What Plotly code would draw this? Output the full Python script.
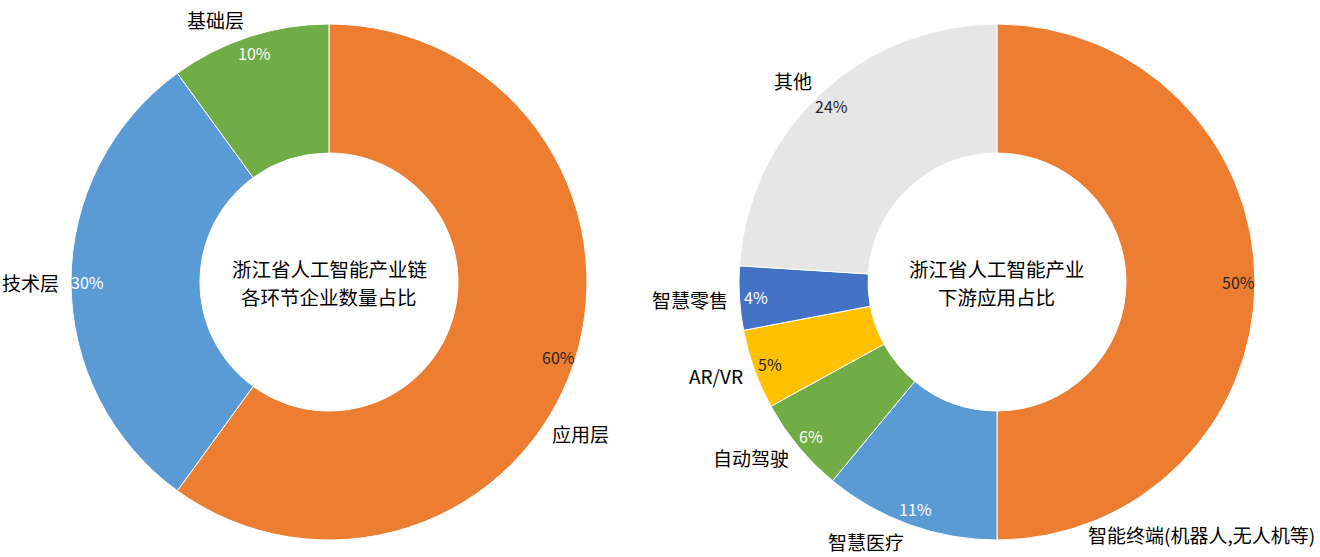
import math
import plotly.graph_objects as go

W, H = 1320, 557

# ---- data ----
left_labels = ["应用层", "技术层", "基础层"]
left_values = [60, 30, 10]
left_title = ["浙江省人工智能产业链", "各环节企业数量占比"]

right_labels = ["智能终端(机器人,无人机等)", "智慧医疗", "自动驾驶", "AR/VR", "智慧零售", "其他"]
right_values = [50, 11, 6, 5, 4, 24]
right_title = ["浙江省人工智能产业", "下游应用占比"]

# ---- style ----
left_colors = ["#ED7D31", "#5B9BD5", "#70AD47"]
left_pct_colors = ["#262626", "#FFFFFF", "#FFFFFF"]
right_colors = ["#ED7D31", "#5B9BD5", "#70AD47", "#FFC000", "#4472C4", "#E7E6E6"]
right_pct_colors = ["#262626", "#FFFFFF", "#FFFFFF", "#262626", "#FFFFFF", "#262626"]
# label angle overrides (degrees clockwise from 12 o'clock), like manually moved Excel labels
label_angle_override = {"应用层": 124.5, "智能终端(机器人,无人机等)": 160.5}

FONT = "Noto Sans CJK SC, Noto Sans, sans-serif"
R = 258
left_center = (329, 282)
right_center = (997, 282)


def domain_for(center):
    cx, cy = center
    return dict(x=[(cx - R) / W, (cx + R) / W], y=[1 - (cy + R) / H, 1 - (cy - R) / H])


fig = go.Figure()


def add_donut(center, labels, values, colors, pct_colors, title_lines):
    fig.add_trace(go.Pie(
        labels=labels, values=values, hole=0.5, sort=False, direction="clockwise",
        rotation=0, textinfo="none", hoverinfo="skip",
        marker=dict(colors=colors, line=dict(color="white", width=1)),
        domain=domain_for(center), showlegend=False,
    ))
    cx, cy = center
    total = sum(values)
    start = 0.0
    for lab, v, pc in zip(labels, values, pct_colors):
        span = 360.0 * v / total
        mid = start + span / 2
        start += span
        t = math.radians(mid)
        rp = 0.935 * R
        px = cx + rp * math.sin(t)
        py = cy - rp * math.cos(t)
        fig.add_annotation(x=px / W, y=1 - py / H, xref="paper", yref="paper",
                           text=f"{round(100 * v / total)}%", showarrow=False,
                           xanchor="center", yanchor="middle",
                           font=dict(family=FONT, size=16, color=pc))
        overridden = lab in label_angle_override
        ang = math.radians(label_angle_override.get(lab, mid))
        rl = R + 10
        lx = cx + rl * math.sin(ang)
        ly = cy - rl * math.cos(ang)
        if not overridden:
            ly -= 8 * math.cos(ang)
        s = math.sin(ang)
        xa = "right" if s < -0.05 else ("left" if s > 0.05 else "center")
        fig.add_annotation(x=lx / W, y=1 - ly / H, xref="paper", yref="paper",
                           text=lab, showarrow=False, xanchor=xa, yanchor="middle",
                           font=dict(family=FONT, size=19, color="#000000"))
    for i, line in enumerate(title_lines):
        ty = cy - 14 + 28 * i
        fig.add_annotation(x=cx / W, y=1 - ty / H, xref="paper", yref="paper",
                           text=line, showarrow=False, xanchor="center", yanchor="middle",
                           borderpad=0,
                           font=dict(family=FONT, size=19.5, color="#000000"))


add_donut(left_center, left_labels, left_values, left_colors, left_pct_colors, left_title)
add_donut(right_center, right_labels, right_values, right_colors, right_pct_colors, right_title)

fig.update_layout(width=W, height=H, margin=dict(l=0, r=0, t=0, b=0),
                  paper_bgcolor="white", plot_bgcolor="white")
fig.write_html("out.html")
